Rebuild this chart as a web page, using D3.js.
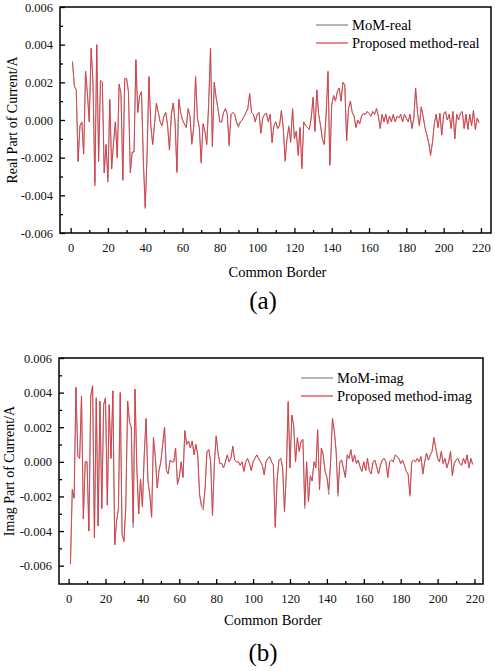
<!DOCTYPE html>
<html>
<head>
<meta charset="utf-8">
<script src="https://cdn.jsdelivr.net/npm/d3@7"></script>
<style>
body { margin: 0; background: #fff; }
</style>
</head>
<body>
<svg width="495" height="671" font-family="'Liberation Serif', 'DejaVu Serif', serif"></svg>
<script>
// values are in units of 1e-3 A, one per common-border index
var commonBorder = d3.range(1, 220);

var realProposed = [
  3.1, 1.8, 1.6, -2.2, -0.3, -0.1, -1.8, 2.6, 1.4, -0.1,
  3.8, 2.0, -3.5, 4.0, -2.2, 2.1, 2.0, -2.8, -1.3, -3.3,
  1.1, -2.6, -1.2, -0.1, -2.0, 1.9, 1.4, -3.2, 2.2, 2.2,
  1.5, -2.8, -1.7, -1.7, 3.2, 0.4, 1.3, 1.5, -2.2, -4.7,
  -1.8, 2.3, -0.3, -1.3, -0.2, 0.9, 0.4, -0.1, -0.3, 0.2,
  0.4, -0.3, -1.6, 0.3, 0.9, -0.1, -2.8, 1.1, 0.4, 0.0,
  -0.2, -0.4, 0.6, 0.2, -1.3, -0.4, 2.3, 0.1, -0.4, -2.3,
  -0.2, -0.6, -1.3, 0.8, 3.8, -1.4, 2.0, 1.2, 0.6, -0.1,
  -0.1, 0.4, 0.6, 0.3, -1.3, 0.3, 0.4, 0.3, -0.1, -0.3,
  -0.1, 0.0, 0.2, 0.4, 0.6, 1.4, 0.4, 0.3, -0.1, 0.3,
  0.4, -0.7, 0.1, 0.3, 0.35, -0.1, 0.3, -1.2, -0.3, -0.1,
  -0.45, -0.3, 0.5, -0.4, -2.2, -1.0, -0.4, -1.2, 0.6, -1.0,
  -0.6, -1.9, -0.4, -2.6, -0.1, -0.3, -0.4, -0.5, 0.1, 1.2,
  -0.6, 1.6, 0.3, -0.3, -1.0, -1.3, 0.3, 2.6, -2.4, 0.8,
  1.3, 1.0, 1.5, 1.7, 1.0, 2.0, 1.9, -1.1, 0.6, 1.0,
  0.4, 0.2, -0.4, 0.0, -0.2, 0.2, 0.35, 0.3, 0.45, 0.35,
  0.2, 0.45, 0.3, 0.6, 0.2, -0.45, 0.3, -0.1, 0.3, -0.2,
  0.2, -0.1, 0.3, -0.1, 0.2, 0.1, 0.3, -0.1, 0.3, 0.1,
  -0.1, 0.3, -0.45, 0.1, 1.7, 0.4, -0.3, 0.7, 0.2, -0.4,
  -0.8, -1.2, -1.9, -1.2, -0.2, 0.3, -0.4, 0.35, -0.8, 0.3,
  0.45, 0.0, 0.3, -0.45, 0.45, -1.0, 0.3, 0.0, 0.35, 0.45,
  -0.45, 0.3, -0.5, 0.3, -0.3, 0.5, -0.5, 0.1, -0.15
];

var realMoM = [
  3.1, 1.8, 1.6, -2.2, -0.3, -0.1, -1.8, 2.6, 1.4, -0.1,
  3.8, 2.0, -3.3, 4.0, -2.2, 2.1, 2.0, -2.8, -1.3, -3.1,
  1.1, -2.6, -1.2, -0.1, -2.0, 1.9, 1.4, -3.2, 2.2, 2.2,
  1.5, -2.8, -1.7, -1.7, 3.2, 0.4, 1.3, 1.5, -2.2, -4.6,
  -1.8, 2.3, -0.3, -1.3, -0.2, 0.9, 0.4, -0.1, -0.3, 0.2,
  0.4, -0.3, -1.6, 0.3, 0.9, -0.1, -2.7, 1.1, 0.4, 0.0,
  -0.2, -0.4, 0.6, 0.2, -1.2, -0.4, 2.3, 0.1, -0.4, -2.2,
  -0.2, -0.6, -1.3, 0.8, 3.8, -1.4, 2.0, 1.2, 0.6, -0.1,
  -0.1, 0.4, 0.6, 0.3, -1.4, 0.3, 0.4, 0.3, -0.2, -0.4,
  -0.1, 0.0, 0.2, 0.4, 0.6, 1.4, 0.4, 0.3, -0.1, 0.3,
  0.4, -0.7, 0.1, 0.3, 0.35, -0.1, 0.3, -1.2, -0.3, -0.1,
  -0.45, -0.3, 0.5, -0.4, -2.1, -1.0, -0.3, -1.1, 0.6, -1.0,
  -0.6, -1.8, -0.4, -2.5, -0.1, -0.3, -0.4, -0.5, 0.1, 1.2,
  -0.6, 1.6, 0.3, -0.3, -1.0, -1.3, 0.3, 2.5, -2.4, 0.8,
  1.3, 1.0, 1.5, 1.7, 1.0, 2.0, 1.8, -1.1, 0.6, 1.0,
  0.4, 0.2, -0.4, 0.0, -0.2, 0.2, 0.35, 0.3, 0.45, 0.35,
  0.2, 0.45, 0.3, 0.6, 0.2, -0.45, 0.3, -0.1, 0.3, -0.2,
  0.2, -0.1, 0.3, -0.1, 0.2, 0.1, 0.3, -0.1, 0.3, 0.1,
  -0.1, 0.3, -0.45, 0.1, 1.6, 0.4, -0.3, 0.7, 0.2, -0.4,
  -0.8, -1.2, -1.8, -1.2, -0.2, 0.3, -0.4, 0.35, -0.8, 0.3,
  0.45, 0.0, 0.3, -0.45, 0.45, -1.0, 0.3, 0.0, 0.35, 0.45,
  -0.45, 0.3, -0.5, 0.3, -0.3, 0.5, -0.5, 0.1, -0.15
];

var imagProposed = [
  -5.9, -1.6, -2.1, 4.3, 0.3, 0.2, 3.8, -3.3, 0.0, 0.0,
  -4.0, 3.8, 4.4, -4.4, 3.7, -3.7, 3.5, -2.7, 3.3, 3.7,
  -2.5, 3.3, 0.2, 4.1, -4.8, -3.4, -2.7, 4.0, -4.2, -4.6,
  -2.6, 3.5, 2.3, 2.0, -3.5, 4.2, -0.4, -3.0, -1.0, -2.6,
  0.4, 2.5, -1.1, -1.9, -3.2, 1.4, 0.3, -1.5, -0.5, 0.0,
  1.0, 2.0, -0.5, -0.7, 0.1, 0.0, 0.0, 0.8, -1.3, -0.9,
  0.0, -0.9, 1.8, 1.0, 1.2, 0.8, 1.2, 0.4, 1.0, 0.4,
  -1.9, -2.5, -2.6, -1.5, 0.6, 0.7, 0.0, -3.1, -0.1, 1.5,
  0.5, -0.1, -0.1, -0.35, 0.0, 0.4, 0.0, 0.2, 0.9, 0.1,
  0.0, 0.0, -0.2, 0.0, -0.55, 0.0, 0.2, -0.1, -0.5, 0.0,
  0.2, 0.4, 0.2, 0.0, -0.2, -0.75, 0.0, 0.2, 0.3, 0.0,
  -0.2, -3.8, -1.1, 0.1, 0.2, -0.35, -2.9, -0.7, 3.5, -0.35,
  2.7, 2.1, 0.0, 1.4, 0.6, 1.2, 1.3, -2.5, 0.0, -2.3,
  -0.8, -1.1, 0.0, -0.35, 1.85, -1.6, 0.8, 0.4, -0.55, -0.9,
  -1.6, 0.0, 2.5, 1.8, 0.6, -1.8, 0.0, 0.1, -0.4, -0.9,
  0.4, 0.2, 0.7, 0.0, 0.4, -0.1, 0.1, -0.3, -0.55, 0.0,
  -0.5, 0.2, -0.5, -0.7, 0.0, 0.1, -0.3, -0.7, -0.2, 0.1,
  0.2, 0.0, -0.9, 0.0, 0.1, 0.0, 0.4, 0.3, 0.2, -0.1,
  0.1, -0.2, -0.55, -0.7, -1.9, 0.0, 0.1, 0.0, 0.2, 0.0,
  0.3, -0.7, 0.0, 0.5, 0.1, 0.4, 0.6, 1.4, 0.8, 0.2,
  0.0, 0.6, -0.1, 0.2, -0.35, 0.0, 0.6, -0.8, -0.1, 0.1,
  0.2, -0.1, -0.2, 0.2, -0.1, 0.4, -0.35, 0.2, -0.15
];

var imagMoM = [
  -5.9, -1.6, -2.1, 4.3, 0.3, 0.2, 3.8, -3.3, 0.0, 0.0,
  -4.0, 3.8, 4.4, -4.4, 3.7, -3.7, 3.5, -2.7, 3.3, 3.7,
  -2.5, 3.3, 0.2, 4.1, -4.8, -3.5, -2.7, 4.0, -4.2, -4.6,
  -2.6, 3.5, 2.3, 2.0, -3.8, 4.2, -0.4, -3.0, -1.0, -2.6,
  0.4, 2.5, -1.1, -1.9, -3.2, 1.4, 0.3, -1.5, -0.5, 0.0,
  1.0, 2.0, -0.5, -0.7, 0.1, 0.0, 0.0, 0.8, -1.3, -0.9,
  0.0, -0.9, 1.8, 1.0, 1.2, 0.8, 1.2, 0.4, 1.0, 0.4,
  -1.9, -2.6, -2.8, -1.5, 0.6, 0.7, 0.0, -3.1, -0.1, 1.5,
  0.5, -0.1, -0.1, -0.35, 0.0, 0.4, 0.0, 0.2, 0.9, 0.1,
  0.0, 0.0, -0.2, 0.0, -0.55, 0.0, 0.2, -0.1, -0.5, 0.0,
  0.2, 0.4, 0.2, 0.0, -0.2, -0.75, 0.0, 0.2, 0.3, 0.0,
  -0.2, -3.7, -1.1, 0.1, 0.2, -0.35, -2.8, -0.7, 3.4, -0.35,
  2.7, 2.1, 0.0, 1.4, 0.6, 1.2, 1.3, -2.7, 0.0, -2.3,
  -0.8, -1.1, 0.0, -0.35, 1.85, -1.6, 0.8, 0.4, -0.55, -0.9,
  -1.9, 0.0, 2.5, 1.8, 0.6, -2.0, 0.0, 0.1, -0.4, -0.9,
  0.4, 0.2, 0.7, 0.0, 0.4, -0.1, 0.1, -0.3, -0.55, 0.0,
  -0.5, 0.2, -0.5, -0.7, 0.0, 0.1, -0.3, -0.7, -0.2, 0.1,
  0.2, 0.0, -0.9, 0.0, 0.1, 0.0, 0.4, 0.3, 0.2, -0.1,
  0.1, -0.2, -0.55, -0.7, -2.0, 0.0, 0.1, 0.0, 0.2, 0.0,
  0.3, -0.7, 0.0, 0.5, 0.1, 0.4, 0.6, 1.4, 0.8, 0.2,
  0.0, 0.6, -0.1, 0.2, -0.35, 0.0, 0.6, -0.8, -0.1, 0.1,
  0.2, -0.1, -0.2, 0.2, -0.1, 0.4, -0.35, 0.2, -0.15
];

var xTicks = [0, 20, 40, 60, 80, 100, 120, 140, 160, 180, 200, 220];
var xMinorTicks = [10, 30, 50, 70, 90, 110, 130, 150, 170, 190, 210];
var yTicks = [-6, -4, -2, 0, 2, 4, 6];
var yMinorTicks = [-5, -3, -1, 1, 3, 5];

var momColor = "#858585";
var proposedColor = "#e63540";
var serif = "'Liberation Serif', 'DejaVu Serif', serif";

var svg = d3.select("svg");

var drawPanel = function(p)
{
    var xScale = d3.scaleLinear().domain(p.xDomain).range([p.left, p.right]);
    var yScale = d3.scaleLinear().domain(p.yDomain).range([p.bottom, p.top]);
    var g = svg.append("g");

    var line = function(values)
    {
        return d3.line()
            .x(function(d, i){ return xScale(commonBorder[i]); })
            .y(function(d){ return yScale(d); })(values);
    };

    g.append("path").attr("d", line(p.mom))
        .attr("fill", "none").attr("stroke", momColor).attr("stroke-width", 0.85);
    g.append("path").attr("d", line(p.proposed))
        .attr("fill", "none").attr("stroke", proposedColor).attr("stroke-width", 0.85);

    // bottom axis, ticks point inward
    var xAxis = g.append("g").attr("transform", "translate(0," + p.bottom + ")")
        .call(d3.axisBottom(xScale).tickValues(xTicks).tickSizeInner(-5).tickSizeOuter(0).tickPadding(10));
    g.append("g").attr("transform", "translate(0," + p.bottom + ")")
        .call(d3.axisBottom(xScale).tickValues(xMinorTicks).tickSizeInner(-3).tickSizeOuter(0).tickFormat(""));

    var yAxis = g.append("g").attr("transform", "translate(" + p.left + ",0)")
        .call(d3.axisLeft(yScale).tickValues(yTicks).tickSizeInner(-5).tickSizeOuter(0).tickPadding(7)
            .tickFormat(function(d){ return (d / 1000).toFixed(3); }));
    g.append("g").attr("transform", "translate(" + p.left + ",0)")
        .call(d3.axisLeft(yScale).tickValues(yMinorTicks).tickSizeInner(-3).tickSizeOuter(0).tickFormat(""));

    g.selectAll(".domain").remove();
    g.selectAll(".tick line").attr("stroke", "#000").attr("stroke-width", 1.3);
    g.selectAll(".tick text")
        .attr("font-family", serif).attr("font-size", 12.5).attr("fill", "#111");

    g.append("rect")
        .attr("x", p.left).attr("y", p.top)
        .attr("width", p.right - p.left).attr("height", p.bottom - p.top)
        .attr("fill", "none").attr("stroke", "#000").attr("stroke-width", 1.5);

    g.append("text")
        .attr("transform", "translate(" + p.yTitleX + "," + ((p.top + p.bottom) / 2) + ") rotate(-90)")
        .attr("text-anchor", "middle").attr("dy", "0.35em")
        .attr("font-family", serif).attr("font-size", 14).text(p.yTitle);

    g.append("text")
        .attr("x", (p.left + p.right) / 2 + 2).attr("y", p.xTitleY)
        .attr("text-anchor", "middle")
        .attr("font-family", serif).attr("font-size", 14.5).text("Common Border");

    g.append("text")
        .attr("x", p.labelX).attr("y", p.labelY)
        .attr("text-anchor", "middle")
        .attr("font-family", serif).attr("font-size", 25).text(p.label);

    // legend
    var legend = [
        { name: p.names[0], color: momColor },
        { name: p.names[1], color: proposedColor }
    ];
    var items = g.selectAll(".legend").data(legend).enter().append("g")
        .attr("transform", function(d, i){ return "translate(" + p.legendX + "," + (p.legendY + i * 18) + ")"; });
    items.append("line")
        .attr("x1", 0).attr("x2", 32).attr("y1", 0).attr("y2", 0)
        .attr("stroke", function(d){ return d.color; }).attr("stroke-width", 1.2);
    items.append("text")
        .attr("x", 36).attr("dy", "0.35em")
        .attr("font-family", serif).attr("font-size", 14.5)
        .text(function(d){ return d.name; });
};

drawPanel({
    left: 60, right: 491, top: 7, bottom: 233,
    xDomain: [-5.7, 225.4], yDomain: [-6, 6],
    mom: realMoM, proposed: realProposed,
    yTitle: "Real Part of Current/A", yTitleX: 12,
    xTitleY: 277, label: "(a)", labelX: 263, labelY: 309,
    names: ["MoM-real", "Proposed method-real"],
    legendX: 316, legendY: 25
});

drawPanel({
    left: 59, right: 483, top: 358, bottom: 584,
    xDomain: [-5.2, 224.6], yDomain: [-7.06, 6],
    mom: imagMoM, proposed: imagProposed,
    yTitle: "Imag Part of Current/A", yTitleX: 9,
    xTitleY: 625, label: "(b)", labelX: 263, labelY: 661,
    names: ["MoM-imag", "Proposed method-imag"],
    legendX: 301, legendY: 378
});
</script>
</body>
</html>
